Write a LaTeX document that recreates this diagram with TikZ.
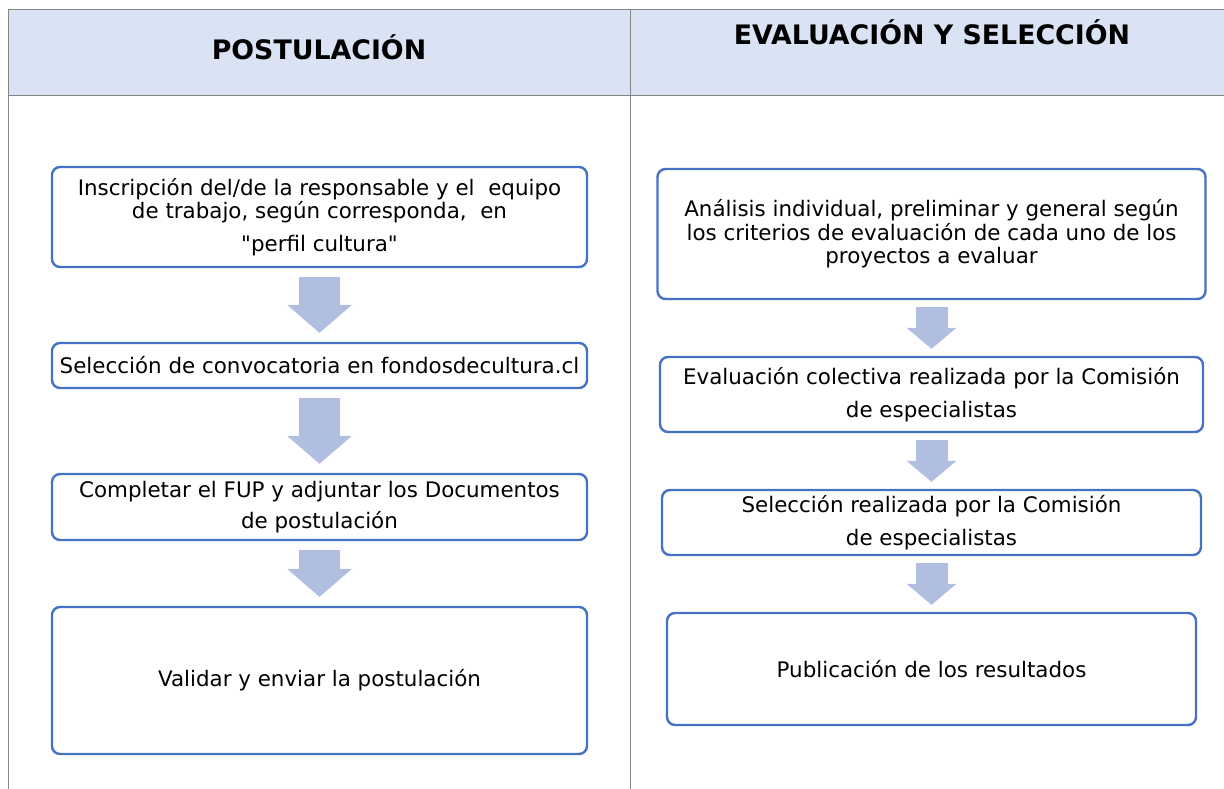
\documentclass[tikz,border=0pt]{standalone}
\usepackage{fontspec}
\setmainfont{DejaVu Sans}[Ligatures=TeXOff]
\usetikzlibrary{arrows.meta}
\definecolor{headblue}{HTML}{DAE3F3}
\definecolor{boxblue}{HTML}{4472C4}
\definecolor{arrowblue}{HTML}{B0BEE0}
\definecolor{rulegray}{HTML}{858585}

\begin{document}
\begin{tikzpicture}[x=1pt, y=-1pt,
        stepbox/.style={draw=boxblue, line width=2.4pt, rounded corners=8pt, align=center, inner sep=0pt,
            font=\fontsize{21.4}{23.5}\selectfont},
        title/.style={anchor=base, font=\fontsize{26.8}{30}\selectfont\bfseries},
        arrowL/.style={arrowblue, line width=41pt, shorten <=9pt, shorten >=9pt,
            -{Triangle[width=65pt, length=28pt, line width=0pt]}},
        arrowR/.style={arrowblue, line width=32pt, shorten <=7pt, shorten >=7pt,
            -{Triangle[width=50pt, length=21pt, line width=0pt]}}]
        \useasboundingbox (0,0) rectangle (1224,789);
        % table
        \fill[headblue] (8,10) rectangle (1224,96);
        \draw[rulegray, line width=1pt] (8,789) -- (8,10) -- (1224,10) (8,96) -- (1224,96) (630,10) -- (630,789);
        \node[title] (tL) at (319,60) {POSTULACIÓN};
        \node[title] (tR) at (932,45) {EVALUACIÓN Y SELECCIÓN};
        % postulacion
        \node[stepbox, minimum width=535pt, minimum height=100pt] (p1) at (319.5,217)
            {Inscripción del/de la responsable y el~ equipo\\ de trabajo, según corresponda,~ en\\[9.5pt] "perfil cultura"};
        \node[stepbox, minimum width=535pt, minimum height=45pt] (p2) at (319.5,365.5)
            {Selección de convocatoria en fondosdecultura.cl};
        \node[stepbox, minimum width=535pt, minimum height=66pt] (p3) at (319.5,507)
            {Completar el FUP y adjuntar los Documentos\\[7.5pt] de postulación};
        \node[stepbox, minimum width=535pt, minimum height=147pt] (p4) at (319.5,680.5)
            {Validar y enviar la postulación};
        % evaluacion
        \node[stepbox, minimum width=548pt, minimum height=130pt] (q1) at (931.5,234)
            {Análisis individual, preliminar y general según\\ los criterios de evaluación de cada uno de los\\ proyectos a evaluar};
        \node[stepbox, minimum width=543pt, minimum height=75pt] (q2) at (931.5,394.5)
            {Evaluación colectiva realizada por la Comisión\\[9.5pt] de especialistas};
        \node[stepbox, minimum width=539pt, minimum height=65pt] (q3) at (931.5,522.5)
            {Selección realizada por la Comisión\\[9.5pt] de especialistas};
        \node[stepbox, minimum width=529pt, minimum height=112pt] (q4) at (931.5,669)
            {Publicación de los resultados};
        \foreach \a/\b in {p1/p2, p2/p3, p3/p4}
            \draw[arrowL] (\a.south) -- (\b.north);
        \foreach \a/\b in {q1/q2, q2/q3, q3/q4}
            \draw[arrowR] (\a.south) -- (\b.north);
    \end{tikzpicture}
\end{document}
